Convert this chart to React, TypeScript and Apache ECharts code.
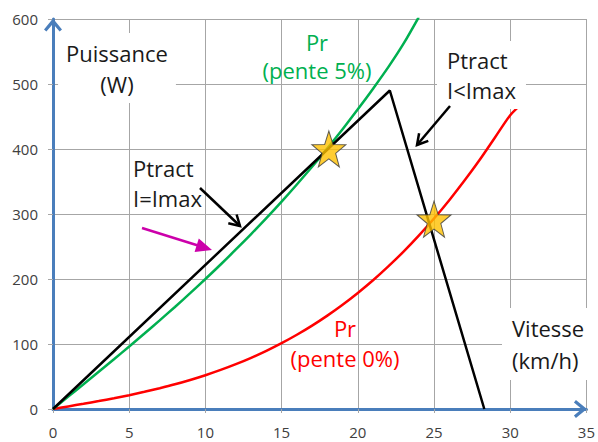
import React, { useEffect, useRef } from "react";
import * as echarts from "echarts";

// Vitesse (km/h) for the resistive-power curves
const speeds = [0, 1, 2, 3, 4, 5, 6, 7, 8, 9, 10, 11, 12, 13, 14, 15, 16, 17, 18, 19, 20, 21, 22, 23, 24, 25, 26, 27, 28, 29, 30, 30.6];
// Pr (pente 5%) in W
const prSlope5 = [0, 19.0, 38.0, 57.2, 76.6, 96.2, 116.1, 136.4, 157.0, 178.2, 200.0, 222.3, 245.4, 269.1, 293.6, 319.0, 345.4, 372.6, 401.0, 430.4, 461.0, 492.8, 525.9, 562.0, 603.0];
// Pr (pente 0%) in W
const prSlope0 = [0, 4.0, 8.0, 12.2, 16.6, 21.3, 26.4, 32.0, 38.0, 44.7, 52.0, 60.1, 69.0, 78.8, 89.5, 101.3, 114.2, 128.3, 143.7, 160.4, 178.6, 198.1, 219.4, 242.1, 266.7, 293.0, 321.2, 351.4, 383.4, 417.7, 452.0, 466.0];
// Ptract: I = Imax then I < Imax
const ptractX = [0, 22.1, 28.3];
const ptractY = [0, 490, 0];
// Operating points (stars)
const starX = [18.1, 25];
const starY = [400, 292];

const xTicks = { min: 0, max: 35, interval: 5 };
const yTicks = { min: 0, max: 600, interval: 100 };

const STAR =
  "path://M50 0 L61.76 33.82 L97.55 34.55 L69.02 56.18 L79.39 90.45 L50 70 L20.61 90.45 L30.98 56.18 L2.45 34.55 L38.24 33.82 Z";
const CHEVRON = "path://M9 0 L18 11 L15.6 13 L9 5.2 L2.4 13 L0 11 Z";

const FONT = '"Open Sans", sans-serif';
const AXIS_BLUE = "#4a7ebb";

export default function App() {
  const ref = useRef<HTMLDivElement>(null);
  useEffect(() => {
    document.body.style.margin = "0";
    const chart = echarts.init(ref.current!, null, { renderer: "svg" });
    const labelFont = { fontFamily: FONT, fontSize: 22, lineHeight: 30 };
    chart.setOption({
      animation: false,
      backgroundColor: "#ffffff",
      grid: { left: 53, right: 10, top: 19, bottom: 33, containLabel: false },
      xAxis: {
        type: "value",
        ...xTicks,
        axisLine: {
          show: true,
          lineStyle: { color: AXIS_BLUE, width: 3 },
          symbol: ["none", CHEVRON],
          symbolSize: [18, 14],
          symbolOffset: [0, -6],
        },
        axisTick: { show: true, length: 4, lineStyle: { color: "#a6a6a6" } },
        axisLabel: { color: "#404040", fontFamily: FONT, fontSize: 15, margin: 15 },
        splitLine: { show: true, lineStyle: { color: "#a6a6a6", width: 1 } },
      },
      yAxis: {
        type: "value",
        ...yTicks,
        axisLine: {
          show: true,
          lineStyle: { color: AXIS_BLUE, width: 3 },
          symbol: ["none", CHEVRON],
          symbolSize: [18, 14],
          symbolOffset: [0, -6],
        },
        axisTick: { show: true, length: 5, lineStyle: { color: "#a6a6a6" } },
        axisLabel: { color: "#404040", fontFamily: FONT, fontSize: 15, margin: 15 },
        splitLine: { show: true, lineStyle: { color: "#a6a6a6", width: 1 } },
      },
      series: [
        {
          type: "line",
          name: "Pr pente 0%",
          data: speeds.map((v, i) => [v, prSlope0[i]]),
          showSymbol: false,
          smooth: 0.3,
          clip: true,
          lineStyle: { color: "#ff0000", width: 2.5 },
          z: 3,
        },
        {
          type: "line",
          name: "Pr pente 5%",
          data: prSlope5.map((p, i) => [speeds[i], p]),
          showSymbol: false,
          smooth: 0.3,
          clip: true,
          lineStyle: { color: "#00b050", width: 2.5 },
          z: 3,
        },
        {
          type: "line",
          name: "Ptract",
          data: ptractX.map((v, i) => [v, ptractY[i]]),
          showSymbol: false,
          clip: true,
          lineStyle: { color: "#000000", width: 2.5 },
          z: 4,
        },
        {
          type: "scatter",
          name: "points",
          data: starX.map((v, i) => [v, starY[i]]),
          symbol: STAR,
          symbolSize: [34, 36],
          itemStyle: { color: "#ffc000", borderColor: "#3a3a3a", borderWidth: 1 },
          z: 10,
        },
      ],
      graphic: [
        {
          type: "text",
          z: 5,
          style: {
            text: "Puissance\n(W)",
            x: 117,
            y: 68,
            align: "center",
            verticalAlign: "middle",
            fill: "#1a1a1a",
            backgroundColor: "#ffffff",
            padding: [4, 8, 4, 8],
            ...labelFont,
            lineHeight: 31,
          },
        },
        {
          type: "text",
          z: 5,
          style: {
            text: "Pr\n(pente 5%)",
            x: 317,
            y: 56,
            align: "center",
            verticalAlign: "middle",
            fill: "#00b050",
            ...labelFont,
            lineHeight: 28,
          },
        },
        {
          type: "text",
          z: 5,
          style: {
            text: "Ptract\nI<Imax",
            x: 437,
            y: 75,
            align: "left",
            verticalAlign: "middle",
            fill: "#1a1a1a",
            backgroundColor: "#ffffff",
            padding: [4, 10, 4, 10],
            ...labelFont,
          },
        },
        {
          type: "text",
          z: 5,
          style: {
            text: "Ptract\nI=Imax",
            x: 133,
            y: 183,
            align: "left",
            verticalAlign: "middle",
            fill: "#1a1a1a",
            ...labelFont,
          },
        },
        {
          type: "text",
          z: 5,
          style: {
            text: "Pr\n(pente 0%)",
            x: 345,
            y: 343,
            align: "center",
            verticalAlign: "middle",
            fill: "#ff0000",
            ...labelFont,
          },
        },
        {
          type: "text",
          z: 5,
          style: {
            text: "Vitesse\n(km/h)",
            x: 502,
            y: 344,
            align: "left",
            verticalAlign: "middle",
            fill: "#1a1a1a",
            backgroundColor: "#ffffff",
            padding: [4, 14, 4, 10],
            ...labelFont,
            lineHeight: 32,
          },
        },
        // black arrow: Ptract I=Imax
        {
          type: "line",
          z: 6,
          shape: { x1: 200, y1: 188, x2: 240, y2: 226 },
          style: { stroke: "#000", lineWidth: 2.5 },
        },
        {
          type: "polyline",
          z: 6,
          shape: { points: [[236.6, 214.5], [240, 226], [228.3, 223.2]] },
          style: { stroke: "#000", lineWidth: 2.5, fill: null },
        },
        // black arrow: Ptract I<Imax
        {
          type: "line",
          z: 6,
          shape: { x1: 450, y1: 106, x2: 417, y2: 145 },
          style: { stroke: "#000", lineWidth: 2.5 },
        },
        {
          type: "polyline",
          z: 6,
          shape: { points: [[428.3, 140.9], [417, 145], [419.1, 133.2]] },
          style: { stroke: "#000", lineWidth: 2.5, fill: null },
        },
        // magenta arrow
        {
          type: "line",
          z: 6,
          shape: { x1: 142, y1: 228, x2: 198, y2: 245.5 },
          style: { stroke: "#cc00aa", lineWidth: 2.5 },
        },
        {
          type: "polygon",
          z: 6,
          shape: { points: [[212, 250], [194.6, 251.9], [198.8, 238.5]] },
          style: { fill: "#cc00aa" },
        },
      ],
    });
    return () => chart.dispose();
  }, []);
  return <div ref={ref} style={{ width: 598, height: 442 }} />;
}
